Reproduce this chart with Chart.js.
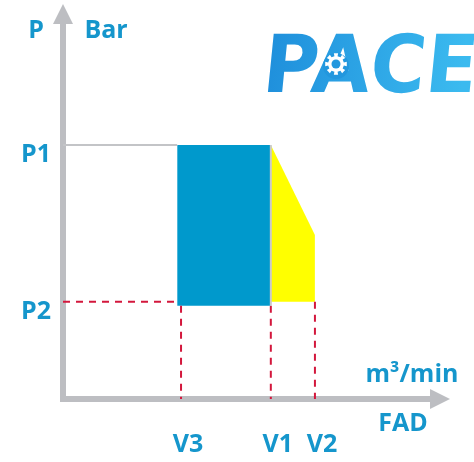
<!DOCTYPE html>
<html>
<head>
<meta charset="utf-8">
<script src="https://cdn.jsdelivr.net/npm/chart.js@4.4.1/dist/chart.umd.min.js"></script>
<style>
  html, body { margin: 0; padding: 0; background: #fff; }
</style>
</head>
<body>
<canvas id="pvChart" width="474" height="462"></canvas>
<script>
// flow (x) and pressure (y) positions, arbitrary 0..100 units
const flowLabels = ['V3', 'V1', 'V2'];
const flowValues = [30.5, 53.7, 65.1];
const pressureLabels = ['P1', 'P2'];
const pressureValues = [64.3, 24.6];
const blueLeft = [29.5];
const blueBottom = [23.6];
const yellowEnd = [41.5]; // pressure reached at V2 on the sloped edge

const [V3, V1, V2] = flowValues;
const [P1, P2] = pressureValues;

const TEXT_BLUE = '#1596cc';
const AXIS_GRAY = '#bdbec2';
const DASH_RED = '#d3173c';
const LABEL_FONT = { family: 'Open Sans', size: 25, weight: 'bold' };

function seg(points, opts) {
    return Object.assign({
        data: points.map(p => ({ x: p[0], y: p[1] })),
        borderWidth: 2,
        pointRadius: 0,
        fill: false,
        tension: 0
    }, opts);
}

function drawGear(ctx, cx, cy, rOut, rIn, teeth) {
    ctx.beginPath();
    const step = Math.PI / teeth;
    for (let i = 0; i < teeth * 2; i++) {
        const r = i % 2 === 0 ? rOut : rIn;
        const a0 = i * step - step / 2;
        const a1 = a0 + step;
        ctx.lineTo(cx + r * Math.cos(a0), cy + r * Math.sin(a0));
        ctx.lineTo(cx + r * Math.cos(a1), cy + r * Math.sin(a1));
    }
    ctx.closePath();
    ctx.fill();
}

// axis arrows + free text, drawn from the scales
const decorPlugin = {
    id: 'decor',
    beforeDatasetsDraw(chart) {
        const { ctx, scales: { x, y } } = chart;
        const x0 = x.getPixelForValue(0);
        const y0 = y.getPixelForValue(0);
        const yTop = y.getPixelForValue(100);
        const xEnd = x.getPixelForValue(100);
        ctx.save();
        ctx.strokeStyle = AXIS_GRAY;
        ctx.fillStyle = AXIS_GRAY;
        ctx.lineWidth = 6;
        ctx.beginPath();
        ctx.moveTo(x0, y0 + 3);
        ctx.lineTo(x0, yTop + 16);
        ctx.moveTo(x0 - 3, y0);
        ctx.lineTo(xEnd - 16, y0);
        ctx.stroke();
        // arrow heads
        ctx.beginPath();
        ctx.moveTo(x0, yTop);
        ctx.lineTo(x0 - 10, yTop + 20);
        ctx.lineTo(x0 + 10, yTop + 20);
        ctx.closePath();
        ctx.fill();
        ctx.beginPath();
        ctx.moveTo(xEnd, y0);
        ctx.lineTo(xEnd - 20, y0 - 10);
        ctx.lineTo(xEnd - 20, y0 + 10);
        ctx.closePath();
        ctx.fill();
        ctx.restore();
    },
    afterDraw(chart) {
        const { ctx } = chart;
        ctx.save();
        ctx.fillStyle = TEXT_BLUE;
        ctx.font = 'bold 25px "Open Sans"';
        ctx.textAlign = 'center';
        ctx.textBaseline = 'middle';
        ctx.fillText('P', 36, 31);
        ctx.fillText('Bar', 106, 31);
        ctx.fillText('FAD', 403, 424);
        ctx.fillText('m³/min', 412, 375);
        ctx.restore();

        // PACE logo, slightly slanted
        ctx.save();
        ctx.translate(257, 92);
        ctx.transform(1, 0, -0.1, 1, 0, 0);
        const grad = ctx.createLinearGradient(0, 0, 216, 0);
        grad.addColorStop(0, '#1e8edb');
        grad.addColorStop(1, '#3bbaef');
        ctx.fillStyle = grad;
        ctx.font = 'bold 80px "DejaVu Sans"';
        ctx.textAlign = 'left';
        ctx.textBaseline = 'alphabetic';
        ctx.fillText('PACE', 4, 0, 214);
        ctx.restore();

        ctx.save();
        ctx.fillStyle = '#2297de';
        ctx.beginPath();
        ctx.arc(336, 66, 13, 0, Math.PI * 2);
        ctx.fill();
        ctx.fillStyle = '#ffffff';
        drawGear(ctx, 336, 64, 11, 8, 8);
        ctx.fillStyle = '#2297de';
        ctx.beginPath();
        ctx.arc(336, 64, 4.5, 0, Math.PI * 2);
        ctx.fill();
        ctx.restore();
    }
};

new Chart(document.getElementById('pvChart'), {
    type: 'line',
    data: {
        datasets: [
            // separator between blue and yellow
            seg([[V1, blueBottom[0]], [V1, P1]], { borderColor: '#c9c9cc', borderWidth: 2 }),
            // P1 guide
            seg([[0, P1], [blueLeft[0], P1]], { borderColor: '#c3c4c7', borderWidth: 2 }),
            // P2 dashed guide and V dashed drops
            seg([[0, P2], [blueLeft[0], P2]], { borderColor: DASH_RED, borderDash: [7, 6] }),
            seg([[V3, blueBottom[0]], [V3, 0]], { borderColor: DASH_RED, borderDash: [7, 6] }),
            seg([[V1, blueBottom[0]], [V1, 0]], { borderColor: DASH_RED, borderDash: [7, 6] }),
            seg([[V2, P2], [V2, 0]], { borderColor: DASH_RED, borderDash: [7, 6] }),
            // blue block up to V1
            seg([[blueLeft[0], P1], [V1, P1]], {
                borderWidth: 0,
                borderColor: '#0099cc',
                backgroundColor: '#0099cc',
                fill: { value: blueBottom[0] }
            }),
            // yellow block V1..V2 with sloped top
            seg([[V1, P1], [V2, yellowEnd[0]]], {
                borderWidth: 0,
                borderColor: '#ffff00',
                backgroundColor: '#ffff00',
                fill: { value: P2 }
            })
        ]
    },
    options: {
        responsive: false,
        animation: false,
        devicePixelRatio: 1,
        layout: { padding: { left: 0, right: 24, top: 4, bottom: 0 } },
        plugins: {
            legend: { display: false },
            tooltip: { enabled: false }
        },
        scales: {
            x: {
                type: 'linear',
                min: 0,
                max: 100,
                grid: { display: false, drawTicks: false },
                border: { display: false },
                afterBuildTicks: s => { s.ticks = flowValues.map(v => ({ value: v })); },
                afterFit: s => { s.height = 63; s.paddingLeft = 0; s.paddingRight = 0; },
                ticks: {
                    padding: 31,
                    labelOffset: 7,
                    color: TEXT_BLUE,
                    font: LABEL_FONT,
                    maxRotation: 0,
                    autoSkip: false,
                    callback: (v, i) => flowLabels[i]
                }
            },
            y: {
                type: 'linear',
                min: 0,
                max: 100,
                grid: { display: false, drawTicks: false },
                border: { display: false },
                afterBuildTicks: s => { s.ticks = pressureValues.map(v => ({ value: v })); },
                afterFit: s => { s.width = 63; s.paddingTop = 0; s.paddingBottom = 0; },
                ticks: {
                    padding: 12,
                    labelOffset: 10,
                    color: TEXT_BLUE,
                    font: LABEL_FONT,
                    autoSkip: false,
                    callback: (v, i) => pressureLabels[i]
                }
            }
        }
    },
    plugins: [decorPlugin]
});
</script>
</body>
</html>
